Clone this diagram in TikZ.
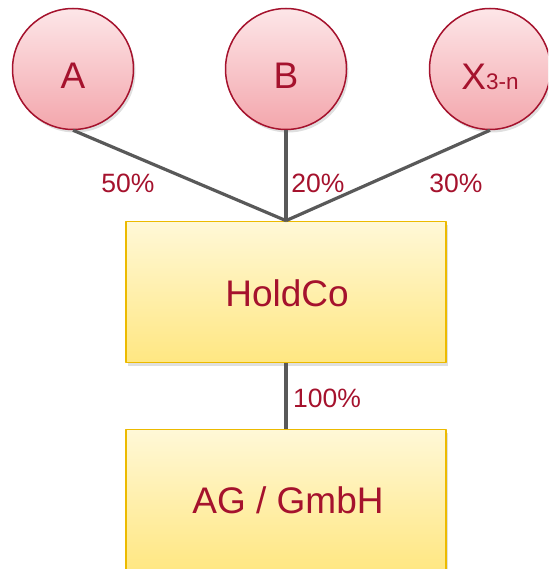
\documentclass[tikz,border=0pt]{standalone}
\usepackage{fontspec}
\setmainfont{Liberation Sans}
\usetikzlibrary{shadows}
\definecolor{a5122d}{RGB}{165,18,45}
\definecolor{fde6e8}{RGB}{253,230,232}
\definecolor{f3a6ac}{RGB}{243,166,172}
\definecolor{fff8d7}{RGB}{255,248,215}
\definecolor{ffe782}{RGB}{255,231,130}
\definecolor{ecba00}{RGB}{236,186,0}
\definecolor{c595959}{RGB}{89,89,89}

\begin{document}
\begin{tikzpicture}[line cap=round,line join=round,x=1pt,y=-1pt,
  owner/.style={circle,draw=a5122d,line width=1.5pt,minimum size=121pt,inner sep=0pt,
    top color=fde6e8,bottom color=f3a6ac,
    drop shadow={shadow xshift=2pt,shadow yshift=-3pt,opacity=0.25}},
  company/.style={rectangle,draw=ecba00,line width=1.7pt,minimum width=320pt,minimum height=141pt,
    top color=fff8d7,bottom color=ffe782,
    drop shadow={shadow xshift=2pt,shadow yshift=-3pt,opacity=0.25}},
  big/.style={text=a5122d,font=\fontsize{37}{40}\selectfont},
  share/.style={text=a5122d,font=\fontsize{26.5}{28}\selectfont},
  link/.style={line width=3.2pt,color=c595959,line cap=butt}]
\useasboundingbox (0,0) rectangle (548,569);
\clip (0,0) rectangle (548,569);
% owners
\node[owner] (a) at (73,69) {};
\node[owner] (b) at (286,69) {};
\node[owner] (x) at (490,69) {};
\node[big] (ta) at (73,76) {A};
\node[big] (tb) at (286,76) {B};
\node[big] (tx) at (490,77) {X{\fontsize{22.5}{24}\selectfont 3-n}};
% companies
\node[company] (holdco) at (286,292) {};
\node[company] (ag) at (286,500) {};
\node[big] (tholdco) at (287,293) {HoldCo};
\node[big] (tag) at (288,500) {AG / GmbH};
% shares
\draw[link] (a.south) -- (holdco.north);
\draw[link] (b.south) -- (holdco.north);
\draw[link] (x.south) -- (holdco.north);
\draw[link] (holdco.south) -- (ag.north);
\node[share] (s50) at (128,183) {50\%};
\node[share] (s20) at (318,183) {20\%};
\node[share] (s30) at (456,183) {30\%};
\node[share] (s100) at (327,398) {100\%};
\end{tikzpicture}
\end{document}
